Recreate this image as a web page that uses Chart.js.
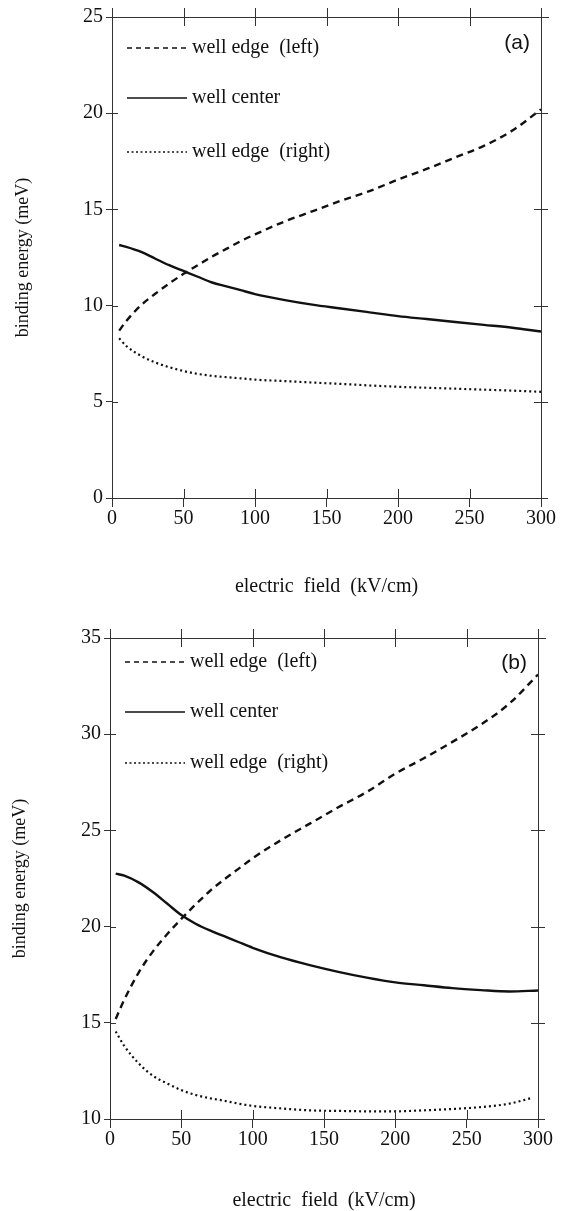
<!DOCTYPE html>
<html>
<head>
<meta charset="utf-8">
<script src="https://cdn.jsdelivr.net/npm/chart.js@4"></script>
<style>
  body { margin: 0; background: #fff; }
  canvas { position: absolute; left: 0; }
  #chart-a { top: 0; }
  #chart-b { top: 605px; }
</style>
</head>
<body>
<canvas id="chart-a" width="563" height="605"></canvas>
<canvas id="chart-b" width="563" height="606"></canvas>
<script>
// panel (a)
const fieldA = [5, 10, 20, 30, 40, 50, 60, 70, 80, 90, 100, 120, 140, 160, 180, 200, 220, 240, 260, 280, 300];
const leftEdgeA = [8.7, 9.2, 10.0, 10.6, 11.15, 11.65, 12.1, 12.55, 12.95, 13.35, 13.7, 14.35, 14.9, 15.45, 15.95, 16.55, 17.1, 17.7, 18.3, 19.1, 20.2];
const centerA = [13.15, 13.05, 12.8, 12.45, 12.1, 11.8, 11.5, 11.2, 11.0, 10.8, 10.6, 10.3, 10.05, 9.85, 9.65, 9.45, 9.3, 9.15, 9.0, 8.85, 8.65];
const rightEdgeA = [8.3, 7.9, 7.4, 7.05, 6.8, 6.6, 6.45, 6.35, 6.28, 6.22, 6.15, 6.08, 6.0, 5.93, 5.85, 5.78, 5.73, 5.68, 5.63, 5.58, 5.52];

// panel (b)
const fieldB = [4, 10, 20, 30, 40, 50, 60, 70, 80, 90, 100, 120, 140, 160, 180, 200, 220, 240, 260, 280, 300];
const leftEdgeB = [15.2, 16.2, 17.6, 18.7, 19.6, 20.4, 21.15, 21.85, 22.45, 23.0, 23.55, 24.5, 25.35, 26.2, 27.0, 27.95, 28.75, 29.6, 30.5, 31.6, 33.1];
const centerB = [22.75, 22.65, 22.3, 21.8, 21.2, 20.6, 20.15, 19.8, 19.5, 19.2, 18.9, 18.4, 18.0, 17.65, 17.35, 17.1, 16.95, 16.8, 16.7, 16.63, 16.68];
const fieldBRight = [4, 10, 20, 30, 40, 50, 60, 70, 80, 90, 100, 120, 140, 160, 180, 200, 220, 240, 260, 280, 296];
const rightEdgeB = [14.55, 13.8, 12.9, 12.25, 11.85, 11.5, 11.25, 11.08, 10.95, 10.8, 10.68, 10.55, 10.45, 10.42, 10.4, 10.4, 10.45, 10.52, 10.62, 10.8, 11.1];

const seriesLabels = ["well edge  (left)", "well center", "well edge  (right)"];
const xTitle = "electric  field  (kV/cm)";
const yTitle = "binding energy (meV)";

const INK = "#111";
const AXIS = "#333";
const SERIF = "'Liberation Serif', 'Times New Roman', serif";

function pts(xs, ys) {
  return xs.map((x, i) => ({ x: x, y: ys[i] }));
}

// frame: top/right edges plus tick marks that cross the box
const framePlugin = {
  id: "frame",
  afterDraw(chart) {
    const { left, right, top, bottom } = chart.chartArea;
    const xs = chart.scales.x, ys = chart.scales.y;
    const ctx = chart.ctx;
    ctx.save();
    ctx.strokeStyle = AXIS;
    ctx.lineWidth = 1;
    ctx.beginPath();
    ctx.moveTo(left, top + 0.5); ctx.lineTo(right + 8, top + 0.5);
    ctx.moveTo(right + 0.5, top - 8); ctx.lineTo(right + 0.5, bottom + 8);
    xs.ticks.forEach(t => {
      const px = Math.round(xs.getPixelForValue(t.value)) + 0.5;
      ctx.moveTo(px, bottom); ctx.lineTo(px, bottom - 9);
      ctx.moveTo(px, top - 9); ctx.lineTo(px, top + 9);
    });
    ys.ticks.forEach(t => {
      const py = Math.round(ys.getPixelForValue(t.value)) + 0.5;
      ctx.moveTo(left, py); ctx.lineTo(left + 6, py);
      ctx.moveTo(right - 7, py); ctx.lineTo(right + 7, py);
    });
    ctx.stroke();
    ctx.restore();
  }
};

// legend inside the plot + panel letter
const insideLegend = {
  id: "insideLegend",
  afterDraw(chart, args, opts) {
    const { left, right, top } = chart.chartArea;
    const ctx = chart.ctx;
    ctx.save();
    chart.data.datasets.forEach((ds, i) => {
      const y = top + opts.rows[i];
      ctx.strokeStyle = ds.borderColor;
      ctx.lineWidth = ds.legendWidth || ds.borderWidth;
      ctx.setLineDash(ds.legendDash || []);
      ctx.beginPath();
      ctx.moveTo(left + 15, y); ctx.lineTo(left + 75, y);
      ctx.stroke();
      ctx.setLineDash([]);
      ctx.fillStyle = INK;
      ctx.font = "20px " + SERIF;
      ctx.textBaseline = "middle";
      ctx.textAlign = "left";
      ctx.fillText(ds.label, left + 80, y);
    });
    ctx.font = "21px 'Liberation Sans', Arial, sans-serif";
    ctx.textAlign = "right";
    ctx.textBaseline = "middle";
    ctx.fillStyle = INK;
    ctx.fillText(opts.tag, right - 11, top + opts.tagY);
    ctx.restore();
  }
};

function makeConfig(d, p) {
  return {
    type: "line",
    data: {
      datasets: [
        { label: seriesLabels[0], data: pts(d.x0, d.y0), borderColor: INK, borderWidth: 2.4, borderDash: [7, 5], legendDash: [5, 4], legendWidth: 1.6 },
        { label: seriesLabels[1], data: pts(d.x1, d.y1), borderColor: INK, borderWidth: 2.4, legendWidth: 1.6 },
        { label: seriesLabels[2], data: pts(d.x2, d.y2), borderColor: INK, borderWidth: 2.2, borderDash: [2, 3], legendDash: [2, 2.5], legendWidth: 1.4 },
      ].map(ds => Object.assign(ds, { pointRadius: 0, fill: false, cubicInterpolationMode: "monotone" })),
    },
    options: {
      responsive: false,
      animation: false,
      layout: { padding: { top: p.top, right: p.right, left: 0, bottom: 0 } },
      scales: {
        x: {
          type: "linear",
          min: 0, max: 300,
          ticks: { stepSize: 50, color: INK, padding: 0, font: { family: SERIF, size: 20 } },
          grid: { drawOnChartArea: false, tickLength: 9, color: AXIS },
          border: { color: AXIS, width: 1 },
          title: { display: true, text: xTitle, color: INK, font: { family: SERIF, size: 20, lineHeight: 1 }, padding: { top: 0, bottom: p.xTitlePad } },
          afterFit(scale) { scale.height = p.xHeight; },
        },
        y: {
          min: p.yMin, max: p.yMax,
          ticks: { stepSize: 5, color: INK, padding: 3, font: { family: SERIF, size: 20 } },
          grid: { drawOnChartArea: false, tickLength: 6, color: AXIS },
          border: { color: AXIS, width: 1 },
          title: { display: true, text: yTitle, color: INK, font: { family: SERIF, size: 18, lineHeight: 1 }, padding: { top: p.yTitlePad, bottom: 0 } },
          afterFit(scale) { scale.width = p.yWidth; },
        },
      },
      plugins: {
        legend: { display: false },
        tooltip: { enabled: false },
        insideLegend: { rows: p.rows, tag: p.tag, tagY: p.tagY },
      },
    },
    plugins: [framePlugin, insideLegend],
  };
}

new Chart(document.getElementById("chart-a").getContext("2d"), makeConfig(
  { x0: fieldA, y0: leftEdgeA, x1: fieldA, y1: centerA, x2: fieldA, y2: rightEdgeA },
  { top: 17, right: 22, yWidth: 112, xHeight: 107, xTitlePad: 8, yTitlePad: 14, yMin: 0, yMax: 25, rows: [31, 81, 135], tag: "(a)", tagY: 26 }
));

new Chart(document.getElementById("chart-b").getContext("2d"), makeConfig(
  { x0: fieldB, y0: leftEdgeB, x1: fieldB, y1: centerB, x2: fieldBRight, y2: rightEdgeB },
  { top: 33, right: 25, yWidth: 110, xHeight: 92, xTitlePad: 0, yTitlePad: 11, yMin: 10, yMax: 35, rows: [24, 74, 125], tag: "(b)", tagY: 25 }
));
</script>
</body>
</html>
